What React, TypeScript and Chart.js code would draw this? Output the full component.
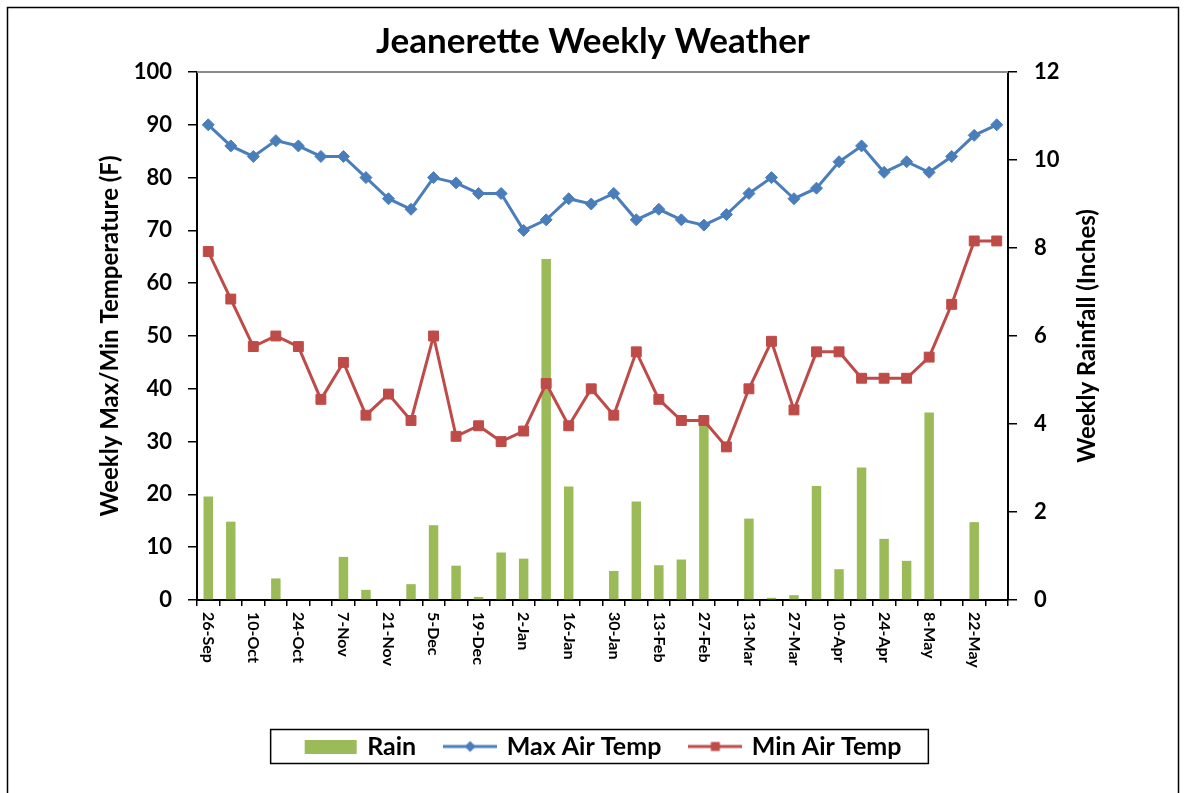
import React, { useEffect, useRef } from 'react';
import { Chart, registerables } from 'chart.js';

Chart.register(...registerables);

// ---- data ----
const weeks = [
  '26-Sep', '3-Oct', '10-Oct', '17-Oct', '24-Oct', '31-Oct', '7-Nov', '14-Nov', '21-Nov',
  '28-Nov', '5-Dec', '12-Dec', '19-Dec', '26-Dec', '2-Jan', '9-Jan', '16-Jan', '23-Jan',
  '30-Jan', '6-Feb', '13-Feb', '20-Feb', '27-Feb', '6-Mar', '13-Mar', '20-Mar', '27-Mar',
  '3-Apr', '10-Apr', '17-Apr', '24-Apr', '1-May', '8-May', '15-May', '22-May', '29-May',
];
const rainInches = [
  2.35, 1.78, 0, 0.49, 0, 0, 0.98, 0.23, 0, 0.36, 1.70, 0.78, 0.07, 1.08, 0.94, 7.75, 2.58, 0,
  0.66, 2.24, 0.79, 0.92, 4.1, 0, 1.85, 0.05, 0.11, 2.59, 0.70, 3.01, 1.39, 0.89, 4.26, 0, 1.77, 0,
];
const maxAirTemp = [
  90, 86, 84, 87, 86, 84, 84, 80, 76, 74, 80, 79, 77, 77, 70, 72, 76, 75,
  77, 72, 74, 72, 71, 73, 77, 80, 76, 78, 83, 86, 81, 83, 81, 84, 88, 90,
];
const minAirTemp = [
  66, 57, 48, 50, 48, 38, 45, 35, 39, 34, 50, 31, 33, 30, 32, 41, 33, 40,
  35, 47, 38, 34, 34, 29, 40, 49, 36, 47, 47, 42, 42, 42, 46, 56, 68, 68,
];
const seriesNames = ['Rain', 'Max Air Temp', 'Min Air Temp'];
const chartTitle = 'Jeanerette Weekly Weather';
const leftAxisTitle = 'Weekly Max/Min Temperature (F)';
const rightAxisTitle = 'Weekly Rainfall (Inches)';
const tempRange = { min: 0, max: 100, step: 10 };
const rainRange = { min: 0, max: 12, step: 2 };
const labelEvery = 2;

const GREEN = '#9BBB59';
const BLUE = '#4A7EBB';
const RED = '#BE4B48';
const FONT = 'Lato';
const LEGEND_SHIFT = 11;

function makeIcon(kind: 'bar' | 'diamond' | 'square'): HTMLCanvasElement {
  const c = document.createElement('canvas');
  c.width = 54;
  c.height = 14;
  const g = c.getContext('2d')!;
  if (kind === 'bar') {
    g.fillStyle = GREEN;
    g.fillRect(1, 0, 52, 14);
    return c;
  }
  const col = kind === 'diamond' ? BLUE : RED;
  g.strokeStyle = col;
  g.lineWidth = 3;
  g.beginPath();
  g.moveTo(0, 7);
  g.lineTo(54, 7);
  g.stroke();
  g.fillStyle = col;
  if (kind === 'diamond') {
    g.beginPath();
    g.moveTo(27, 1.5);
    g.lineTo(32.5, 7);
    g.lineTo(27, 12.5);
    g.lineTo(21.5, 7);
    g.closePath();
    g.fill();
  } else {
    g.fillRect(22.5, 2.5, 9, 9);
  }
  return c;
}

const decorPlugin = {
  id: 'decor',
  afterUpdate(chart: any) {
    const lg = chart.legend;
    if (!lg) return;
    lg.left += LEGEND_SHIFT;
    lg.right += LEGEND_SHIFT;
    (lg.legendHitBoxes || []).forEach((h: any) => {
      h.left += LEGEND_SHIFT;
    });
  },
  afterDraw(chart: any) {
    const { ctx, chartArea } = chart;
    ctx.save();
    // top border of plot area
    ctx.strokeStyle = '#8a8a8a';
    ctx.lineWidth = 2;
    ctx.beginPath();
    ctx.moveTo(chartArea.left, chartArea.top);
    ctx.lineTo(chartArea.right, chartArea.top);
    ctx.stroke();

    // x labels rotated clockwise
    const xs = chart.scales.x;
    ctx.fillStyle = '#000';
    ctx.font = `bold 16px ${FONT}`;
    ctx.textAlign = 'left';
    ctx.textBaseline = 'middle';
    weeks.forEach((w, i) => {
      if (i % labelEvery !== 0) return;
      const x = xs.getPixelForValue(i);
      ctx.save();
      ctx.translate(x, chartArea.bottom + 12);
      ctx.rotate(Math.PI / 2);
      ctx.fillText(w, 0, 0);
      ctx.restore();
    });

    // right axis title (reads bottom to top)
    ctx.save();
    ctx.translate(chartArea.right + 79, (chartArea.top + chartArea.bottom) / 2);
    ctx.rotate(-Math.PI / 2);
    ctx.textAlign = 'center';
    ctx.textBaseline = 'middle';
    ctx.font = `bold 24px ${FONT}`;
    ctx.fillText(rightAxisTitle, 0, 0);
    ctx.restore();

    // legend border
    const lg = chart.legend;
    if (lg && lg.legendHitBoxes && lg.legendHitBoxes.length) {
      const hb = lg.legendHitBoxes;
      const first = hb[0];
      const last = hb[hb.length - 1];
      const cy = first.top + first.height / 2;
      ctx.strokeStyle = '#000';
      ctx.lineWidth = 1.5;
      ctx.strokeRect(first.left - 36, cy - 17, last.left + last.width + 27 - (first.left - 36), 34);
    }

    // outer frame
    ctx.strokeStyle = '#000';
    ctx.lineWidth = 1.5;
    ctx.strokeRect(7.5, 7.5, 1171, 900);
    ctx.restore();
  },
};

export default function App() {
  const ref = useRef<HTMLCanvasElement | null>(null);

  useEffect(() => {
    if (!ref.current) return;
    const icons = [makeIcon('bar'), makeIcon('diamond'), makeIcon('square')];
    const chart = new Chart(ref.current, {
      type: 'bar',
      data: {
        labels: weeks,
        datasets: [
          {
            type: 'bar',
            label: seriesNames[0],
            data: rainInches,
            yAxisID: 'y1',
            backgroundColor: GREEN,
            barPercentage: 0.42,
            categoryPercentage: 1,
            order: 3,
          },
          {
            type: 'line',
            label: seriesNames[1],
            data: maxAirTemp,
            yAxisID: 'y',
            borderColor: BLUE,
            backgroundColor: BLUE,
            borderWidth: 3,
            pointStyle: 'rectRot',
            pointRadius: 6,
            pointBorderWidth: 1,
            pointBackgroundColor: BLUE,
            pointBorderColor: BLUE,
            tension: 0,
            order: 1,
          },
          {
            type: 'line',
            label: seriesNames[2],
            data: minAirTemp,
            yAxisID: 'y',
            borderColor: RED,
            backgroundColor: RED,
            borderWidth: 3,
            pointStyle: 'rect',
            pointRadius: 7,
            pointBorderWidth: 1,
            pointBackgroundColor: RED,
            pointBorderColor: RED,
            tension: 0,
            order: 2,
          },
        ] as any,
      },
      options: {
        responsive: false,
        animation: false,
        events: [],
        layout: { padding: { top: 0, left: 0, right: 0, bottom: 24 } },
        plugins: {
          title: {
            display: true,
            text: chartTitle,
            color: '#000',
            font: { family: FONT, size: 35, weight: 'bold' },
            padding: { top: 21, bottom: 9 },
          },
          legend: {
            display: true,
            position: 'bottom',
            labels: {
              color: '#000',
              font: { family: FONT, size: 25, weight: 'bold' },
              usePointStyle: true,
              pointStyleWidth: 48,
              padding: 30,
              generateLabels(ch: any) {
                const items = (Chart.defaults.plugins.legend.labels as any).generateLabels(ch);
                items.sort((a: any, b: any) => a.datasetIndex - b.datasetIndex);
                return items.map((it: any) => ({
                  ...it,
                  pointStyle: icons[it.datasetIndex],
                  fontColor: '#000',
                }));
              },
            },
          },
          tooltip: { enabled: false },
        },
        scales: {
          x: {
            offset: true,
            grid: {
              offset: true,
              drawOnChartArea: false,
              drawTicks: true,
              tickLength: 6,
              color: '#000',
              lineWidth: 1.5,
            },
            border: { display: true, color: '#000', width: 2 },
            ticks: { display: false, autoSkip: false },
            afterFit(scale: any) {
              scale.height = 104;
            },
          },
          y: {
            position: 'left',
            min: tempRange.min,
            max: tempRange.max,
            ticks: {
              stepSize: tempRange.step,
              color: '#000',
              padding: 16,
              font: { family: FONT, size: 22, weight: 'bold' },
            },
            grid: { drawOnChartArea: false, tickLength: 9, color: '#000', lineWidth: 1.5 },
            border: { display: true, color: '#000', width: 2 },
            title: {
              display: true,
              text: leftAxisTitle,
              color: '#000',
              font: { family: FONT, size: 24, weight: 'bold' },
              padding: { top: 96, bottom: 0 },
            },
            afterFit(scale: any) {
              scale.width = 197;
            },
          },
          y1: {
            position: 'right',
            min: rainRange.min,
            max: rainRange.max,
            ticks: {
              stepSize: rainRange.step,
              color: '#000',
              padding: 17,
              font: { family: FONT, size: 22, weight: 'bold' },
            },
            grid: { drawOnChartArea: false, tickLength: 9, color: '#000', lineWidth: 1.5 },
            border: { display: true, color: '#000', width: 2 },
            afterFit(scale: any) {
              scale.width = 178;
            },
          },
        },
      } as any,
      plugins: [decorPlugin],
    });
    return () => chart.destroy();
  }, []);

  return (
    <div style={{ position: 'fixed', left: 0, top: 0, width: 1186, height: 793, background: '#fff' }}>
      <canvas ref={ref} width={1186} height={793} style={{ display: 'block' }} />
    </div>
  );
}
